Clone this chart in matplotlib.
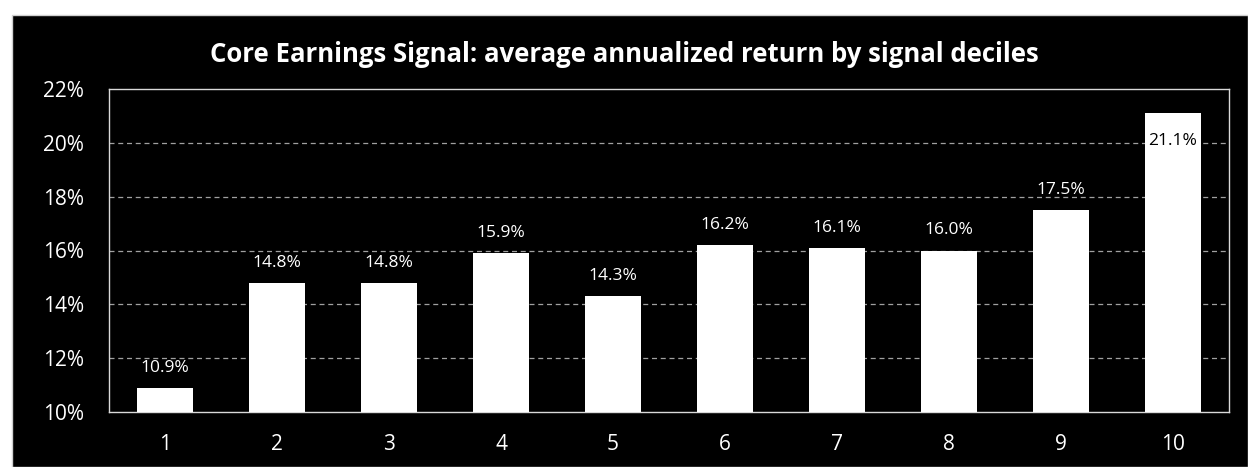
import matplotlib.pyplot as plt
from matplotlib.patches import Rectangle

# --- Data ---
deciles = ["1", "2", "3", "4", "5", "6", "7", "8", "9", "10"]
returns = [10.9, 14.8, 14.8, 15.9, 14.3, 16.2, 16.1, 16.0, 17.5, 21.1]
yticks = [10, 12, 14, 16, 18, 20, 22]

plt.rcParams['font.family'] = ['Open Sans', 'DejaVu Sans']

fig = plt.figure(figsize=(12.48, 4.67), dpi=100)
fig.patch.set_facecolor('white')
# black panel behind the chart
fig.patches.append(Rectangle((12 / 1248, 0), 1 - 12 / 1248, 1 - 15 / 467,
                             transform=fig.transFigure, facecolor='black',
                             edgecolor='#d0d0d0', linewidth=1, zorder=-5))

ax = fig.add_axes([109 / 1248, 1 - 412 / 467, 1120 / 1248, 323 / 467])
ax.set_facecolor('black')

x = list(range(len(deciles)))
ax.bar(x, [r - 10 for r in returns], bottom=10, width=0.5, color='white', zorder=3)

for xi, r in zip(x, returns):
    if r > 21:
        # top bar: label sits inside, in black
        ax.text(xi, r - 0.75, f"{r:.1f}%", ha='center', va='top', color='black',
                fontsize=12.5, zorder=4)
    else:
        ax.text(xi, r + 0.45, f"{r:.1f}%", ha='center', va='bottom', color='white',
                fontsize=12.5, zorder=4)

ax.set_xlim(-0.5, len(deciles) - 0.5)
ax.set_ylim(10, 22)
ax.set_xticks(x)
ax.set_xticklabels(deciles)
ax.set_yticks(yticks)
ax.set_yticklabels([f"{t}%" for t in yticks])
ax.tick_params(colors='white', labelsize=15, length=0)
ax.tick_params(axis='y', pad=18)
ax.tick_params(axis='x', pad=16)
for t in yticks[1:-1]:
    ax.axhline(t, color='#a0a0a0', linestyle=(0, (4, 3)), linewidth=0.9, zorder=1)

for s in ax.spines.values():
    s.set_color('#d9d9d9')
    s.set_linewidth(1)

fig.text(0.5, 1 - 55 / 467, "Core Earnings Signal: average annualized return by signal deciles",
         ha='center', va='center', color='white', fontsize=18.5, fontweight='bold')

plt.savefig("out.png", dpi=100, facecolor=fig.get_facecolor())
plt.close()
